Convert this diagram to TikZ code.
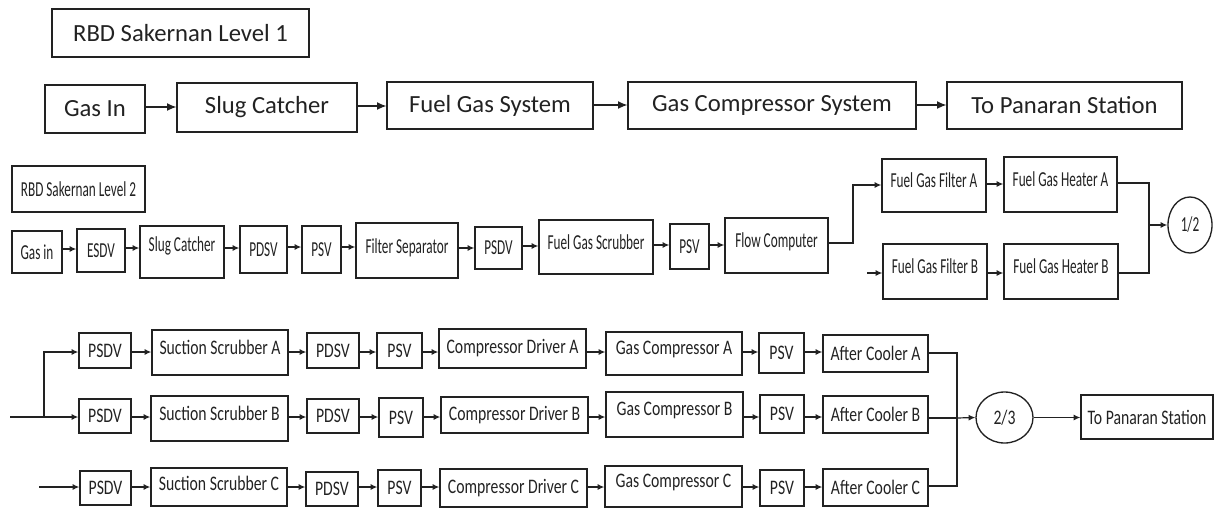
\documentclass[tikz,border=0pt]{standalone}
\usepackage{fontspec}
\setmainfont{Carlito}
\newfontfamily\fa{Carlito}
\newfontfamily\fb[FakeStretch=0.62]{Carlito}
\newfontfamily\fc[FakeStretch=0.76]{Carlito}
\usetikzlibrary{arrows.meta,shapes.geometric}
\definecolor{ink}{HTML}{222222}
\begin{document}
\begin{tikzpicture}[x=0.75pt,y=-0.75pt,
  box/.style={draw=ink,line width=1pt,inner sep=0pt,text=ink},
  la/.style={font=\fa\fontsize{18.5}{22}\selectfont},
  lb/.style={font=\fb\fontsize{16}{19}\selectfont},
  lc/.style={font=\fc\fontsize{15.5}{18}\selectfont},
  raise/.style={text depth=#1},
  con/.style={draw=ink,line width=0.9pt},
  arr/.style={con,-{Latex[length=5pt,width=4.5pt]}},
  arrb/.style={con,-{Latex[length=7pt,width=6pt]}}]
\useasboundingbox (0,0) rectangle (1215,508);
% ---------- Level 1
\node[box,la,minimum width={257*0.75pt},minimum height={48*0.75pt}] (t1) at (180.5,33) {RBD Sakernan Level 1};
\node[box,la,minimum width={100*0.75pt},minimum height={48*0.75pt}] (g1) at (95,109) {Gas In};
\node[box,la,minimum width={180*0.75pt},minimum height={49*0.75pt}] (s1) at (267,107.5) {Slug Catcher};
\node[box,la,minimum width={206*0.75pt},minimum height={47*0.75pt}] (f1) at (490,105.5) {Fuel Gas System};
\node[box,la,minimum width={288*0.75pt},minimum height={47*0.75pt}] (c1) at (772,105.5) {Gas Compressor System};
\node[box,la,minimum width={235*0.75pt},minimum height={47*0.75pt}] (p1) at (1064.5,105.5) {To Panaran Station};
\draw[arrb] (g1.east |- 0,107) -- (s1.west |- 0,107);
\draw[arrb] (s1.east |- 0,106) -- (f1.west |- 0,106);
\draw[arrb] (f1.east |- 0,105) -- (c1.west |- 0,105);
\draw[arrb] (c1.east |- 0,105) -- (p1.west |- 0,105);
% ---------- Level 2
\node[box,lb,minimum width={133*0.75pt},minimum height={46*0.75pt}] (t2) at (78.5,189) {RBD Sakernan Level 2};
\node[box,lb,minimum width={50*0.75pt},minimum height={42*0.75pt}] (gin) at (37,252) {Gas in};
\node[box,lb,minimum width={48*0.75pt},minimum height={43*0.75pt}] (esdv) at (101,250.5) {ESDV};
\node[box,lb,raise=12pt,minimum width={84*0.75pt},minimum height={52*0.75pt}] (slug) at (182,252) {Slug Catcher};
\node[box,lb,minimum width={47*0.75pt},minimum height={47*0.75pt}] (pdsv) at (263.5,249.5) {PDSV};
\node[box,lb,minimum width={39*0.75pt},minimum height={47*0.75pt}] (psva) at (321.5,249.5) {PSV};
\node[box,lb,raise=6pt,minimum width={102*0.75pt},minimum height={55*0.75pt}] (fsep) at (407,250.5) {Filter Separator};
\node[box,lb,minimum width={47*0.75pt},minimum height={42*0.75pt}] (psdv) at (498.5,248) {PSDV};
\node[box,lb,raise=8pt,minimum width={114*0.75pt},minimum height={54*0.75pt}] (fgs) at (596,247) {Fuel Gas Scrubber};
\node[box,lb,minimum width={39*0.75pt},minimum height={45*0.75pt}] (psvb) at (689.5,246.5) {PSV};
\node[box,lb,raise=8pt,minimum width={103*0.75pt},minimum height={55*0.75pt}] (flow) at (776.5,245.5) {Flow Computer};
\node[box,lb,raise=8pt,minimum width={104*0.75pt},minimum height={53*0.75pt}] (ffa) at (934,185.5) {Fuel Gas Filter A};
\node[box,lb,raise=8pt,minimum width={113*0.75pt},minimum height={55*0.75pt}] (fha) at (1060.5,184.5) {Fuel Gas Heater A};
\node[box,lb,raise=8pt,minimum width={104*0.75pt},minimum height={55*0.75pt}] (ffb) at (935,271.5) {Fuel Gas Filter B};
\node[box,lb,raise=8pt,minimum width={114*0.75pt},minimum height={55*0.75pt}] (fhb) at (1061,271.5) {Fuel Gas Heater B};
\node[draw=ink,line width=1pt,ellipse,lb,text=ink,inner sep=0pt,minimum width={44*0.75pt},minimum height={56*0.75pt}] (h12) at (1190,225) {1/2};
\draw[arr] (gin.east |- 0,249) -- (esdv.west |- 0,249);
\draw[arr] (esdv.east |- 0,248) -- (slug.west |- 0,248);
\draw[arr] (slug.east |- 0,248) -- (pdsv.west |- 0,248);
\draw[arr] (pdsv.east |- 0,247) -- (psva.west |- 0,247);
\draw[arr] (psva.east |- 0,247) -- (fsep.west |- 0,247);
\draw[arr] (fsep.east |- 0,248) -- (psdv.west |- 0,248);
\draw[arr] (psdv.east |- 0,246) -- (fgs.west |- 0,246);
\draw[arr] (fgs.east |- 0,245) -- (psvb.west |- 0,245);
\draw[arr] (psvb.east |- 0,245) -- (flow.west |- 0,245);
\coordinate (sp) at (853,243);
\draw[arr] (flow.east |- sp) -- (sp) |- (ffa.west |- 0,185);
\coordinate (fb0) at (867,273);
\draw[arr] (fb0) -- (ffb.west |- fb0);
\draw[arr] (ffa.east |- 0,184) -- (fha.west |- 0,184);
\draw[arr] (ffb.east |- 0,273) -- (fhb.west |- 0,273);
\coordinate (jn) at (1149,225);
\draw[con] (fha.east |- 0,183) -| (jn);
\draw[con] (fhb.east |- 0,273) -| (jn);
\draw[arr] (jn) -- (h12.west);
% ---------- Level 3
\node[box,lc,minimum width={52*0.75pt},minimum height={35*0.75pt}] (pa1) at (105,350.5) {PSDV};
\node[box,lc,raise=8pt,minimum width={136*0.75pt},minimum height={45*0.75pt}] (pa2) at (220,352.5) {Suction Scrubber A};
\node[box,lc,minimum width={52*0.75pt},minimum height={35*0.75pt}] (pa3) at (333,350.5) {PDSV};
\node[box,lc,minimum width={45*0.75pt},minimum height={35*0.75pt}] (pa4) at (399.5,350.5) {PSV};
\node[box,lc,minimum width={147*0.75pt},minimum height={39*0.75pt}] (pa5) at (512.5,348.5) {Compressor Driver A};
\node[box,lc,raise=8pt,minimum width={136*0.75pt},minimum height={43*0.75pt}] (pa6) at (674,353.5) {Gas Compressor A};
\node[box,lc,minimum width={45*0.75pt},minimum height={40*0.75pt}] (pa7) at (781.5,353) {PSV};
\node[box,lc,minimum width={105*0.75pt},minimum height={37*0.75pt}] (pa8) at (875.5,353.5) {After Cooler A};
\node[box,lc,minimum width={52*0.75pt},minimum height={34*0.75pt}] (pb1) at (105,416) {PSDV};
\node[box,lc,raise=8pt,minimum width={137*0.75pt},minimum height={45*0.75pt}] (pb2) at (219.5,418.5) {Suction Scrubber B};
\node[box,lc,minimum width={52*0.75pt},minimum height={34*0.75pt}] (pb3) at (333,416) {PDSV};
\node[box,lc,minimum width={44*0.75pt},minimum height={39*0.75pt}] (pb4) at (401,417.5) {PSV};
\node[box,lc,minimum width={147*0.75pt},minimum height={36*0.75pt}] (pb5) at (514.5,415) {Compressor Driver B};
\node[box,lc,raise=8pt,minimum width={137*0.75pt},minimum height={45*0.75pt}] (pb6) at (674.5,414.5) {Gas Compressor B};
\node[box,lc,minimum width={44*0.75pt},minimum height={38*0.75pt}] (pb7) at (782,414) {PSV};
\node[box,lc,minimum width={105*0.75pt},minimum height={37*0.75pt}] (pb8) at (875.5,414.5) {After Cooler B};
\node[box,lc,minimum width={51*0.75pt},minimum height={34*0.75pt}] (pc1) at (105.5,488) {PSDV};
\node[box,lc,raise=6pt,minimum width={136*0.75pt},minimum height={38*0.75pt}] (pc2) at (219,487) {Suction Scrubber C};
\node[box,lc,minimum width={52*0.75pt},minimum height={34*0.75pt}] (pc3) at (332,489) {PDSV};
\node[box,lc,minimum width={43*0.75pt},minimum height={36*0.75pt}] (pc4) at (399.5,488) {PSV};
\node[box,lc,minimum width={147*0.75pt},minimum height={38*0.75pt}] (pc5) at (513.5,488) {Compressor Driver C};
\node[box,lc,raise=8pt,minimum width={137*0.75pt},minimum height={41*0.75pt}] (pc6) at (673.5,486.5) {Gas Compressor C};
\node[box,lc,minimum width={44*0.75pt},minimum height={36*0.75pt}] (pc7) at (782,488) {PSV};
\node[box,lc,minimum width={105*0.75pt},minimum height={37*0.75pt}] (pc8) at (875.5,487.5) {After Cooler C};
\node[draw=ink,line width=1pt,ellipse,lc,text=ink,inner sep=0pt,minimum width={57*0.75pt},minimum height={51*0.75pt}] (e23) at (1004.5,417.5) {2/3};
\node[box,lc,minimum width={132*0.75pt},minimum height={44*0.75pt}] (tps) at (1147,417) {To Panaran Station};
% feed
\coordinate (fd0) at (10,417);
\coordinate (fdj) at (44,417);
\draw[con] (fd0) -- (fdj);
\draw[arr] (fdj) |- (pa1.west |- 0,352);
\draw[arr] (fdj) -- (pb1.west |- fdj);
\coordinate (fc0) at (39,487);
\draw[arr] (fc0) -- (pc1.west |- fc0);
% row arrows
\foreach \r/\y in {a/352,b/417,c/487}{
  \draw[arr] (p\r1.east |- 0,\y) -- (p\r2.west |- 0,\y);
  \draw[arr] (p\r2.east |- 0,\y) -- (p\r3.west |- 0,\y);
  \draw[arr] (p\r3.east |- 0,\y) -- (p\r4.west |- 0,\y);
  \draw[arr] (p\r4.east |- 0,\y) -- (p\r5.west |- 0,\y);
  \draw[arr] (p\r5.east |- 0,\y) -- (p\r6.west |- 0,\y);
  \draw[arr] (p\r6.east |- 0,\y) -- (p\r7.west |- 0,\y);
  \draw[arr] (p\r7.east |- 0,\y) -- (p\r8.west |- 0,\y);
}
\coordinate (jm) at (957,418);
\draw[con] (pa8.east |- 0,353) -| (jm);
\draw[con] (pc8.east |- 0,486) -| (jm);
\draw[con] (pb8.east |- jm) -- (jm);
\draw[arr] (jm) -- (e23.west);
\draw[arr] (e23.east) -- (tps.west |- e23.east);
\end{tikzpicture}
\end{document}
